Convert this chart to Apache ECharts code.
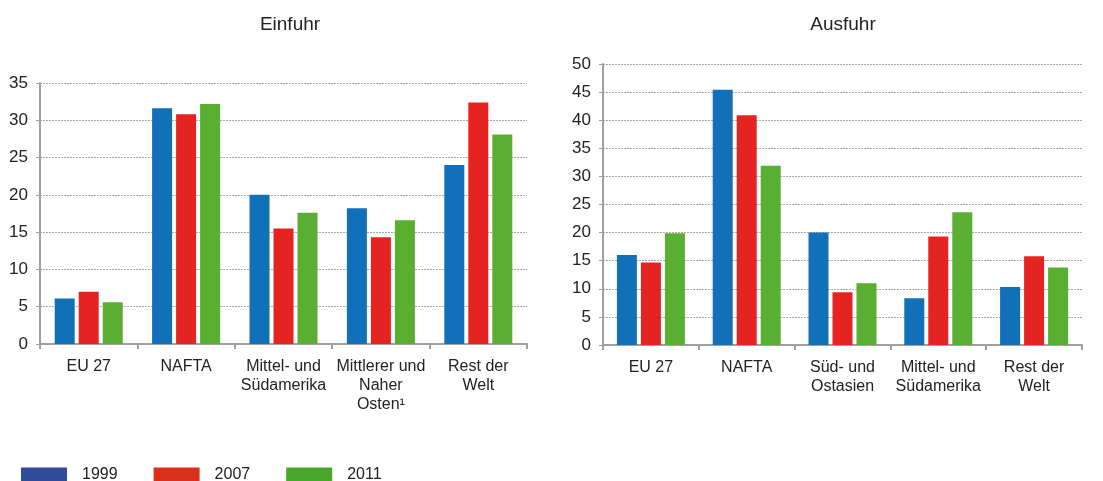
<!DOCTYPE html>
<html>
<head>
<meta charset="utf-8">
<script src="https://cdn.jsdelivr.net/npm/echarts@6/dist/echarts.min.js"></script>
<style>
    html, body { margin: 0; padding: 0; background: #fff; }
    #chart { width: 1103px; height: 481px; }
</style>
</head>
<body>
<div id="chart"></div>
<script>
// Einfuhr (links)
const importCategories = ['EU 27', 'NAFTA', 'Mittel- und\nSüdamerika', 'Mittlerer und\nNaher\nOsten¹', 'Rest der\nWelt']
const import1999 = [6.1, 31.6, 20.0, 18.2, 24.0]
const import2007 = [7.0, 30.8, 15.5, 14.3, 32.4]
const import2011 = [5.6, 32.2, 17.6, 16.6, 28.1]

// Ausfuhr (rechts)
const exportCategories = ['EU 27', 'NAFTA', 'Süd- und\nOstasien', 'Mittel- und\nSüdamerika', 'Rest der\nWelt']
const export1999 = [16.0, 45.4, 20.0, 8.3, 10.3]
const export2007 = [14.7, 40.9, 9.4, 19.3, 15.8]
const export2011 = [19.9, 31.9, 11.0, 23.6, 13.8]

const years = ['1999', '2007', '2011']
const barColors = ['#1170b8', '#e52421', '#5aae32']
const legendColors = ['#2f4b9a', '#d9301c', '#4aa52c']

const font = 'Liberation Sans, Arial, sans-serif'

const chart = echarts.init(document.getElementById('chart'))

function xAxisFor(idx, data) {
    return {
        type: 'category',
        gridIndex: idx,
        data: data,
        axisLine: { lineStyle: { color: '#a0a0a0', width: 2 } },
        axisTick: { show: true, length: 5, lineStyle: { color: '#a0a0a0', width: 2 } },
        axisLabel: { color: '#222', fontSize: 16, fontFamily: font, lineHeight: 19, margin: 13, interval: 0 }
    }
}

function yAxisFor(idx, max) {
    return {
        type: 'value',
        gridIndex: idx,
        min: 0,
        max: max,
        interval: 5,
        axisLine: { show: true, lineStyle: { color: '#a0a0a0', width: 2 } },
        axisTick: { show: true, length: 4, lineStyle: { color: '#a0a0a0' } },
        axisLabel: { color: '#222', fontSize: 17, fontFamily: font, margin: 12 },
        splitLine: { lineStyle: { color: '#a8a8a8', type: [2, 1], width: 1 } }
    }
}

function barSeries(name, idx, data, color) {
    return {
        name: name,
        type: 'bar',
        xAxisIndex: idx,
        yAxisIndex: idx,
        data: data,
        barWidth: 20,
        barGap: '20%',
        itemStyle: { color: color },
        animation: false
    }
}

chart.setOption({
    animation: false,
    title: [
        { text: 'Einfuhr', left: 285, top: 10, textAlign: 'center', textStyle: { fontSize: 19, fontWeight: 'normal', color: '#222', fontFamily: font } },
        { text: 'Ausfuhr', left: 838, top: 10, textAlign: 'center', textStyle: { fontSize: 19, fontWeight: 'normal', color: '#222', fontFamily: font } }
    ],
    grid: [
        { left: 40, top: 83, width: 487, height: 261 },
        { left: 603, top: 64, width: 479, height: 281 }
    ],
    legend: {
        left: 16,
        top: 462,
        icon: 'rect',
        itemWidth: 46,
        itemHeight: 15,
        itemGap: 36,
        textStyle: { fontSize: 16, color: '#222', fontFamily: font, padding: [0, 0, 0, 10] },
        data: years.map((y, i) => ({ name: y, itemStyle: { color: legendColors[i] } }))
    },
    xAxis: [xAxisFor(0, importCategories), xAxisFor(1, exportCategories)],
    yAxis: [yAxisFor(0, 35), yAxisFor(1, 50)],
    series: [
        barSeries(years[0], 0, import1999, barColors[0]),
        barSeries(years[1], 0, import2007, barColors[1]),
        barSeries(years[2], 0, import2011, barColors[2]),
        barSeries(years[0], 1, export1999, barColors[0]),
        barSeries(years[1], 1, export2007, barColors[1]),
        barSeries(years[2], 1, export2011, barColors[2])
    ]
})
</script>
</body>
</html>
